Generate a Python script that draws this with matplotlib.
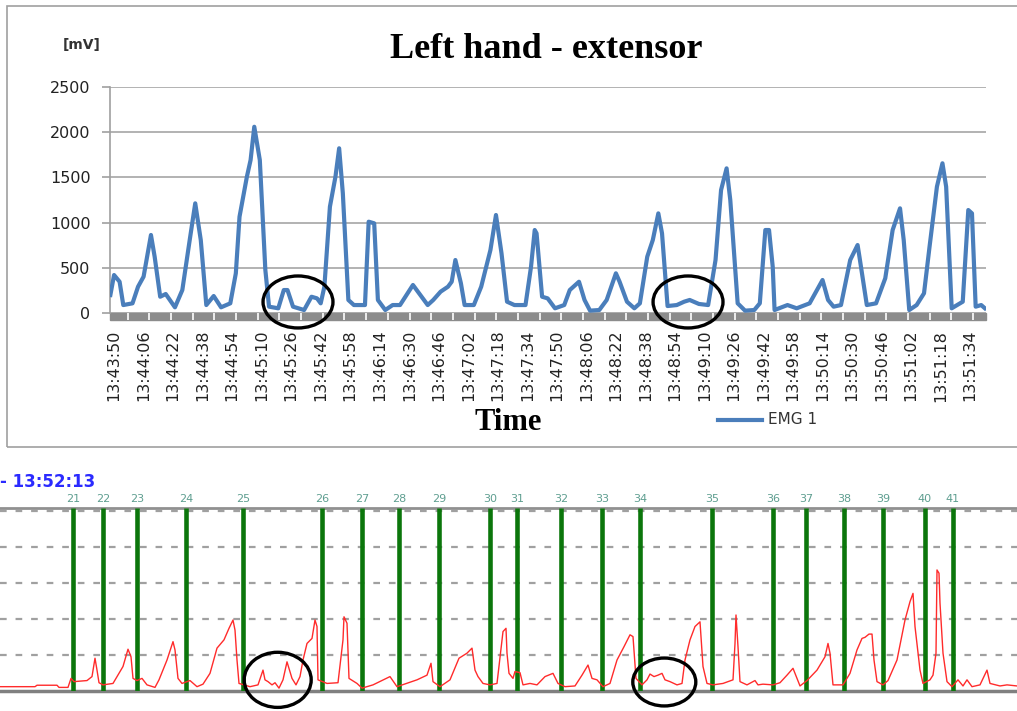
import matplotlib
matplotlib.use('Agg')
import matplotlib.pyplot as plt
from matplotlib.patches import Ellipse, Rectangle
from matplotlib.lines import Line2D

# upper chart: seconds after 13:43:50 and EMG amplitude [mV]
emg_t = [-2, 0, 3, 5, 10, 13, 16, 20, 22, 25, 28, 33, 37, 41, 44, 47, 50, 54, 58, 63,
         66, 68, 72, 74, 76, 79, 82, 84, 89, 92, 94, 97, 103, 107, 110, 112, 114, 117, 120, 122,
         124, 127, 130, 136, 138, 141, 143, 147, 151, 155, 162, 166, 170, 173, 177, 181, 183, 185, 188, 190,
         195, 199, 204, 207, 210, 213, 217, 223, 226, 228, 229, 232, 235, 239, 244, 247, 252, 255, 258, 263,
         267, 272, 274, 278, 282, 285, 289, 292, 295, 297, 300, 305, 309, 312, 317, 322, 326, 329, 332, 334,
         338, 342, 347, 350, 353, 355, 357, 358, 365, 370, 377, 384, 387, 390, 394, 399, 403, 404, 408, 413,
         418, 422, 426, 428, 431, 435, 439, 442, 446, 449, 451, 454, 457, 460, 463, 465, 467, 470, 472]
emg_mv = [199, 420, 346, 88, 107, 291, 402, 863, 623, 180, 210, 63, 254, 807, 1213, 807, 88, 188, 63, 107,
          439, 1065, 1508, 1692, 2060, 1692, 476, 70, 52, 254, 254, 70, 33, 180, 162, 107, 291, 1176, 1508, 1822,
          1324, 144, 88, 88, 1010, 992, 144, 33, 88, 88, 310, 199, 88, 144, 236, 291, 346, 586, 328, 88,
          88, 291, 697, 1084, 660, 125, 88, 88, 512, 918, 881, 180, 162, 52, 88, 254, 346, 144, 26, 33,
          144, 439, 346, 125, 52, 107, 623, 807, 1102, 881, 77, 88, 125, 144, 100, 88, 586, 1360, 1600, 1250,
          107, 26, 33, 107, 918, 918, 512, 33, 88, 52, 107, 365, 144, 70, 88, 586, 752, 623, 88, 107,
          384, 918, 1158, 807, 33, 88, 218, 733, 1397, 1656, 1397, 52, 88, 125, 1139, 1102, 70, 88, 52]

time_labels = ['13:43:50', '13:44:06', '13:44:22', '13:44:38', '13:44:54', '13:45:10',
               '13:45:26', '13:45:42', '13:45:58', '13:46:14', '13:46:30', '13:46:46',
               '13:47:02', '13:47:18', '13:47:34', '13:47:50', '13:48:06', '13:48:22',
               '13:48:38', '13:48:54', '13:49:10', '13:49:26', '13:49:42', '13:49:58',
               '13:50:14', '13:50:30', '13:50:46', '13:51:02', '13:51:18', '13:51:34']

# lower recording: trace position and level (grid units)
trace_x = [0, 35, 37, 57, 59, 68, 71, 74, 87, 92, 95, 97, 99, 103, 113, 117, 123, 128, 131, 133,
           137, 142, 147, 155, 159, 167, 173, 175, 178, 182, 190, 197, 203, 210, 217, 224, 229, 233, 235, 237,
           239, 250, 258, 263, 265, 268, 272, 275, 279, 283, 287, 292, 296, 300, 303, 307, 312, 315, 317, 318,
           327, 338, 343, 344, 347, 349, 357, 362, 373, 390, 397, 417, 427, 431, 433, 440, 450, 459, 467, 472,
           475, 478, 483, 490, 497, 503, 506, 507, 509, 513, 515, 520, 523, 530, 537, 545, 553, 558, 565, 575,
           582, 588, 592, 597, 603, 610, 617, 624, 630, 633, 636, 642, 647, 650, 654, 658, 662, 665, 670, 677,
           682, 685, 690, 695, 700, 703, 707, 713, 723, 733, 735, 736, 738, 740, 747, 755, 758, 763, 773, 780,
           787, 793, 797, 800, 807, 817, 825, 828, 830, 833, 843, 850, 857, 862, 865, 869, 872, 874, 877, 883,
           888, 897, 905, 910, 913, 915, 920, 923, 930, 933, 936, 937, 939, 940, 943, 947, 952, 958, 963, 967,
           972, 980, 987, 990, 1000, 1007, 1017]
trace_y = [0.12, 0.12, 0.16, 0.16, 0.10, 0.10, 0.35, 0.26, 0.29, 0.40, 0.91, 0.58, 0.23, 0.17, 0.21, 0.40, 0.68, 1.16, 0.95, 0.35,
           0.29, 0.35, 0.17, 0.10, 0.31, 0.86, 1.37, 1.14, 0.35, 0.21, 0.29, 0.12, 0.19, 0.49, 1.19, 1.42, 1.74, 1.97, 1.69, 0.86,
           0.21, 0.12, 0.17, 0.58, 0.31, 0.26, 0.17, 0.23, 0.08, 0.31, 0.81, 0.35, 0.17, 0.40, 0.86, 1.32, 1.46, 1.97, 1.79, 0.31,
           0.21, 0.23, 1.42, 2.06, 1.88, 0.35, 0.21, 0.08, 0.17, 0.40, 0.12, 0.31, 0.44, 0.77, 0.26, 0.12, 0.31, 0.91, 1.05, 1.19,
           0.58, 0.40, 0.21, 0.17, 0.21, 1.65, 1.74, 1.05, 0.49, 0.35, 0.54, 0.51, 0.17, 0.21, 0.17, 0.40, 0.49, 0.21, 0.12, 0.14,
           0.44, 0.72, 0.35, 0.31, 0.12, 0.21, 0.86, 1.23, 1.56, 1.51, 0.35, 0.17, 0.31, 0.47, 0.40, 0.44, 0.49, 0.31, 0.26, 0.17,
           0.21, 0.86, 1.42, 1.79, 1.92, 0.68, 0.21, 0.17, 0.21, 0.31, 1.32, 2.11, 1.23, 0.26, 0.17, 0.29, 0.17, 0.19, 0.17, 0.23,
           0.44, 0.63, 0.35, 0.14, 0.29, 0.58, 0.95, 1.32, 1.05, 0.17, 0.17, 0.49, 1.14, 1.46, 1.49, 1.58, 1.58, 0.86, 0.26, 0.17,
           0.29, 0.86, 1.97, 2.48, 2.71, 1.79, 0.58, 0.21, 0.31, 0.44, 1.05, 3.36, 3.27, 2.44, 1.05, 0.26, 0.12, 0.31, 0.14, 0.31,
           0.12, 0.17, 0.58, 0.21, 0.14, 0.17, 0.14]

marker_x = [73, 103, 137, 186, 243, 322, 362, 399, 439, 490, 517, 561, 602, 640, 712, 773, 806, 844, 883, 925, 953]
marker_num = list(range(21, 42))

W, H = 1017, 711
fig = plt.figure(figsize=(W / 100, H / 100), dpi=100)
fig.patch.set_facecolor('white')

serif = 'Liberation Serif'
blue = '#4a7ebb'

# frame around the upper chart
fig.add_artist(Rectangle((7 / W, 1 - 447 / H), 1.2, 441 / H, transform=fig.transFigure,
                         fill=False, edgecolor='#a0a0a0', lw=1.2))

ax = fig.add_axes([110 / W, 1 - 313 / H, 876 / W, 226 / H])
ax.plot(emg_t, emg_mv, color=blue, lw=3.0, solid_joinstyle='round', zorder=3)
ax.set_xlim(-2.2, 472.6)
ax.set_ylim(0, 2500)
ax.set_yticks(range(0, 2501, 500))
ax.yaxis.grid(True, color='#a6a6a6', lw=1.2)
ax.set_axisbelow(True)
for s in ['top', 'right', 'bottom']:
    ax.spines[s].set_visible(False)
ax.spines['left'].set_color('#a0a0a0')
ax.spines['left'].set_linewidth(1.2)
ax.tick_params(axis='y', direction='out', length=6, width=1.2, color='#a0a0a0',
               labelsize=11.5, labelcolor='#222222', pad=8)
ax.set_xticks([16 * i for i in range(len(time_labels))])
ax.set_xticklabels(time_labels, rotation=90, fontsize=11.5, color='#222222')
ax.tick_params(axis='x', length=0, pad=12)

# thick category axis band with white tick separators
xt = ax.get_xaxis_transform()
band = 7 / 226
ax.add_patch(Rectangle((-2.2, -band), 474.8, band, transform=xt, color='#8c8c8c',
                       clip_on=False, zorder=2))
sep = [7.4 + 11.75 * k for k in range(41)]
ax.vlines(sep, -band, 0, transform=xt, colors='white', lw=1.2, clip_on=False, zorder=2)

for cx in [99.7, 311.1]:
    ax.add_patch(Ellipse((cx, 122), 37.9, 575, fill=False, edgecolor='black', lw=2.4,
                         clip_on=False, zorder=4))

fig.text(546 / W, 1 - 50 / H, 'Left hand - extensor', family=serif, weight='bold',
         fontsize=26, ha='center', va='center')
fig.text(82 / W, 1 - 45 / H, '[mV]', fontsize=10, weight='bold', color='#333333',
         ha='center', va='center')
fig.text(508 / W, 1 - 423 / H, 'Time', family=serif, weight='bold', fontsize=22,
         ha='center', va='center')
fig.add_artist(Line2D([718 / W, 762 / W], [1 - 420 / H, 1 - 420 / H], transform=fig.transFigure,
                      color=blue, lw=3.0))
fig.text(768 / W, 1 - 420 / H, 'EMG 1', fontsize=11, color='#333333', va='center')

# lower recording panel
bx = fig.add_axes([0, 1 - 691 / H, 1, 183 / H])
bx.set_xlim(0, W)
bx.set_ylim(0, 5.08)
bx.axis('off')
for g in [1, 2, 3, 4, 5]:
    bx.axhline(g, color='#a0a0a0', lw=1.6, ls=(0, (3, 4)), zorder=1)
bx.axhline(5.08, color='#909090', lw=2.0, zorder=1, clip_on=False)
bx.axhline(0, color='#808080', lw=2.5, zorder=1, clip_on=False)
bx.vlines(marker_x, 0, 5.08, colors='#0b760b', lw=3.3, zorder=2)
bx.plot(trace_x, trace_y, color='#ff2b2b', lw=1.0, zorder=3)
for mx, n in zip(marker_x, marker_num):
    bx.annotate(str(n), xy=(mx, 1), xycoords=('data', 'axes fraction'), xytext=(0, 3),
                textcoords='offset points', ha='center', va='bottom', fontsize=8,
                color='#5e9e90')
bx.add_patch(Ellipse((277.7, 0.31), 67, 1.53, fill=False, edgecolor='black', lw=2.4,
                     clip_on=False, zorder=4))
bx.add_patch(Ellipse((664.3, 0.25), 63, 1.33, fill=False, edgecolor='black', lw=2.4,
                     clip_on=False, zorder=4))
fig.text(0, 1 - 482 / H, '- 13:52:13', fontsize=12, weight='bold', color='#2b2bff',
         va='center', ha='left')

fig.savefig('out.png', dpi=100)
